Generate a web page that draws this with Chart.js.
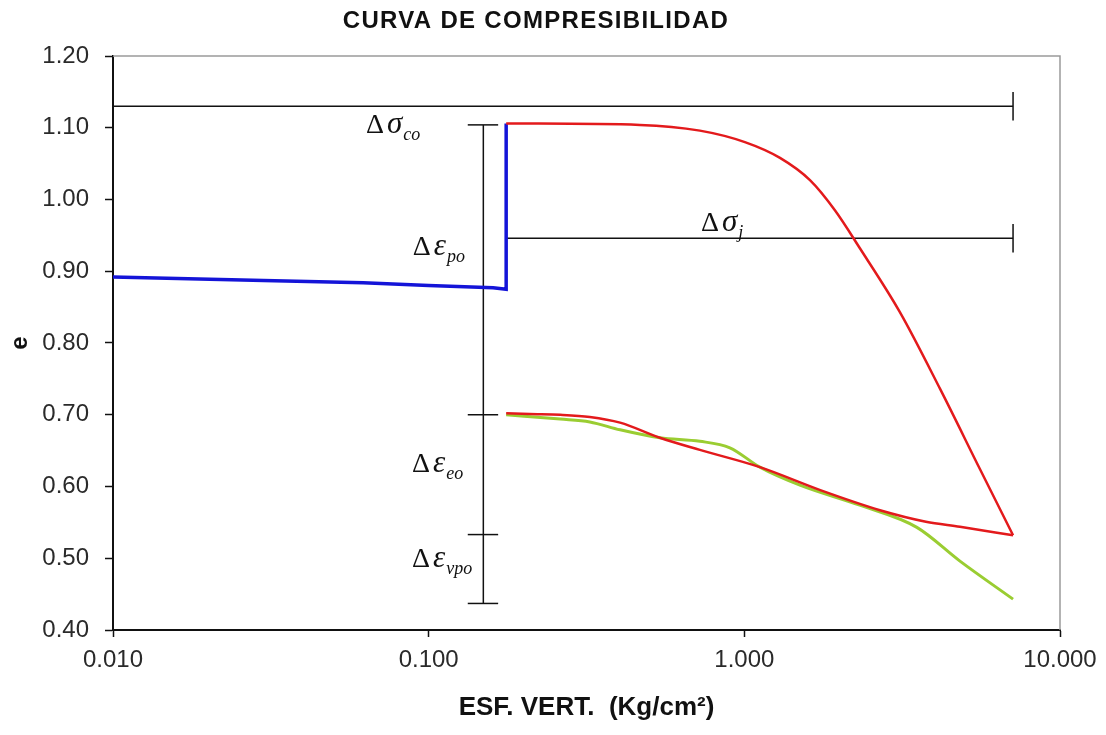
<!DOCTYPE html>
<html lang="es">
<head>
<meta charset="UTF-8">
<title>Curva de compresibilidad</title>
<script src="https://cdn.jsdelivr.net/npm/chart.js"></script>
<style>
  html, body { margin: 0; padding: 0; background: #fff; }
</style>
</head>
<body>
<canvas id="chart" width="1106" height="735"></canvas>
<script>
  // Ejes
  const xTicks = [0.01, 0.1, 1, 10];
  const yMin = 0.4, yMax = 1.2, yStep = 0.1;

  // Curva azul (tramo inicial + salto)
  const blueX = [0.010, 0.030, 0.062, 0.100, 0.160, 0.176, 0.176];
  const blueE = [0.892, 0.887, 0.884, 0.880, 0.877, 0.875, 1.106];

  // Curva roja superior
  const redTopX = [0.176, 0.467, 0.723, 1.004, 1.297, 1.614, 1.936, 2.323, 3.11, 4.17, 5.58, 7.10];
  const redTopE = [1.106, 1.104, 1.096, 1.080, 1.058, 1.027, 0.985, 0.932, 0.843, 0.736, 0.624, 0.532];

  // Curva roja inferior
  const redLowX = [0.176, 0.209, 0.261, 0.324, 0.404, 0.540, 0.723, 1.12, 1.74, 2.69, 3.76, 4.82, 7.10];
  const redLowE = [0.702, 0.701, 0.700, 0.697, 0.689, 0.668, 0.651, 0.627, 0.595, 0.567, 0.551, 0.544, 0.532];

  // Curva verde
  const greenX = [0.176, 0.261, 0.324, 0.404, 0.540, 0.723, 0.900, 1.12, 1.50, 2.32, 3.52, 4.82, 7.10];
  const greenE = [0.700, 0.694, 0.690, 0.679, 0.668, 0.663, 0.654, 0.627, 0.602, 0.574, 0.543, 0.496, 0.443];

  // Cotas (lineas negras)
  const cotaSup = { y: 1.13, x0: 0.01, x1: 7.1, cap: 0.02 };
  const cotaInc = { y: 0.946, x0: 0.176, x1: 7.1, cap: 0.02 };
  const cotaVertX = 0.149;
  const cotaVertTicksE = [1.104, 0.700, 0.533, 0.437];
  const cotaTickX = [0.133, 0.166];

  // Etiquetas
  const labelX = [0.0633, 0.089, 0.0885, 0.0885, 0.729];
  const labelE = [1.093, 0.923, 0.620, 0.488, 0.956];
  const labelSym = ['σ', 'ε', 'ε', 'ε', 'σ'];
  const labelSub = ['co', 'po', 'eo', 'vpo', 'j'];

  const pts = (xs, es) => xs.map((v, i) => ({ x: v, y: es[i] }));

  const curve = (data, color, width, smooth) => ({
    data,
    borderColor: color,
    borderWidth: width,
    showLine: true,
    pointRadius: 0,
    fill: false,
    cubicInterpolationMode: smooth ? 'monotone' : 'default',
    tension: 0,
  });

  const black = (data) => curve(data, '#111', 1.5, false);

  const datasets = [
    curve(pts(redTopX, redTopE), '#e31a1c', 2.5, true),
    curve(pts(redLowX, redLowE), '#e31a1c', 2.5, true),
    curve(pts(greenX, greenE), '#9acd32', 3, true),
    curve(pts(blueX, blueE), '#1414d8', 3.5, false),
    black([{ x: cotaSup.x0, y: cotaSup.y }, { x: cotaSup.x1, y: cotaSup.y }]),
    black([{ x: cotaSup.x1, y: cotaSup.y + cotaSup.cap }, { x: cotaSup.x1, y: cotaSup.y - cotaSup.cap }]),
    black([{ x: cotaInc.x0, y: cotaInc.y }, { x: cotaInc.x1, y: cotaInc.y }]),
    black([{ x: cotaInc.x1, y: cotaInc.y + cotaInc.cap }, { x: cotaInc.x1, y: cotaInc.y - cotaInc.cap }]),
    black([{ x: cotaVertX, y: cotaVertTicksE[0] }, { x: cotaVertX, y: cotaVertTicksE[cotaVertTicksE.length - 1] }]),
  ];
  cotaVertTicksE.forEach((e) => {
    datasets.push(black([{ x: cotaTickX[0], y: e }, { x: cotaTickX[1], y: e }]));
  });

  // Marco gris (arriba y derecha)
  const framePlugin = {
    id: 'frame',
    beforeDatasetsDraw(chart) {
      const { ctx, chartArea: a } = chart;
      ctx.save();
      ctx.strokeStyle = '#9a9a9a';
      ctx.lineWidth = 1.5;
      ctx.beginPath();
      ctx.moveTo(a.left, a.top);
      ctx.lineTo(a.right, a.top);
      ctx.lineTo(a.right, a.bottom);
      ctx.stroke();
      ctx.restore();
    },
  };

  // Titulo y simbolos griegos
  const textPlugin = {
    id: 'texts',
    afterDraw(chart) {
      const { ctx, scales: { x, y } } = chart;
      ctx.save();
      ctx.fillStyle = '#111';
      ctx.textAlign = 'center';
      ctx.textBaseline = 'middle';
      ctx.font = "bold 24px 'Liberation Sans'";
      ctx.letterSpacing = '1.3px';
      ctx.fillText('CURVA DE COMPRESIBILIDAD', 536, 21);
      ctx.letterSpacing = '0px';

      ctx.textAlign = 'left';
      ctx.textBaseline = 'alphabetic';
      labelX.forEach((v, i) => {
        let px = x.getPixelForValue(v);
        const py = y.getPixelForValue(labelE[i]);
        ctx.font = "28px 'Liberation Serif'";
        ctx.fillText('Δ', px, py);
        px += ctx.measureText('Δ').width + 3;
        ctx.font = "italic 31px 'Liberation Serif'";
        ctx.fillText(labelSym[i], px, py);
        px += ctx.measureText(labelSym[i]).width + 1;
        ctx.font = "italic 18px 'Liberation Serif'";
        ctx.fillText(labelSub[i], px, py + 7);
      });
      ctx.restore();
    },
  };

  const tickFont = { family: "'Liberation Sans'", size: 24 };

  new Chart(document.getElementById('chart'), {
    type: 'scatter',
    data: { datasets },
    plugins: [framePlugin, textPlugin],
    options: {
      responsive: false,
      animation: false,
      layout: { padding: { top: 56, right: 46, bottom: 0, left: 0 } },
      plugins: { legend: { display: false }, tooltip: { enabled: false } },
      scales: {
        x: {
          type: 'logarithmic',
          min: xTicks[0],
          max: xTicks[xTicks.length - 1],
          afterBuildTicks: (s) => { s.ticks = xTicks.map((v) => ({ value: v })); },
          afterFit: (s) => { s.height = 105; },
          ticks: {
            callback: (v) => Number(v).toFixed(3),
            font: tickFont,
            color: '#2a2a2a',
            padding: 9,
            maxRotation: 0,
            autoSkip: false,
          },
          grid: { drawOnChartArea: false, tickLength: 7, tickColor: '#111', tickWidth: 1.5 },
          border: { color: '#111', width: 2 },
          title: {
            display: true,
            text: 'ESF. VERT.  (Kg/cm²)',
            font: { family: "'Liberation Sans'", size: 26, weight: 'bold' },
            color: '#111',
            padding: { top: 0, bottom: 12 },
          },
        },
        y: {
          min: yMin,
          max: yMax,
          afterFit: (s) => { s.width = 113; },
          ticks: {
            stepSize: yStep,
            callback: (v) => Number(v).toFixed(2),
            font: tickFont,
            color: '#2a2a2a',
            padding: 16,
          },
          grid: { drawOnChartArea: false, tickLength: 8, tickColor: '#111', tickWidth: 1.5 },
          border: { color: '#111', width: 2 },
          title: {
            display: true,
            text: 'e',
            font: { family: "'Liberation Sans'", size: 24, weight: 'bold' },
            color: '#111',
            padding: { top: 6, bottom: 0 },
          },
        },
      },
    },
  });
</script>
</body>
</html>
